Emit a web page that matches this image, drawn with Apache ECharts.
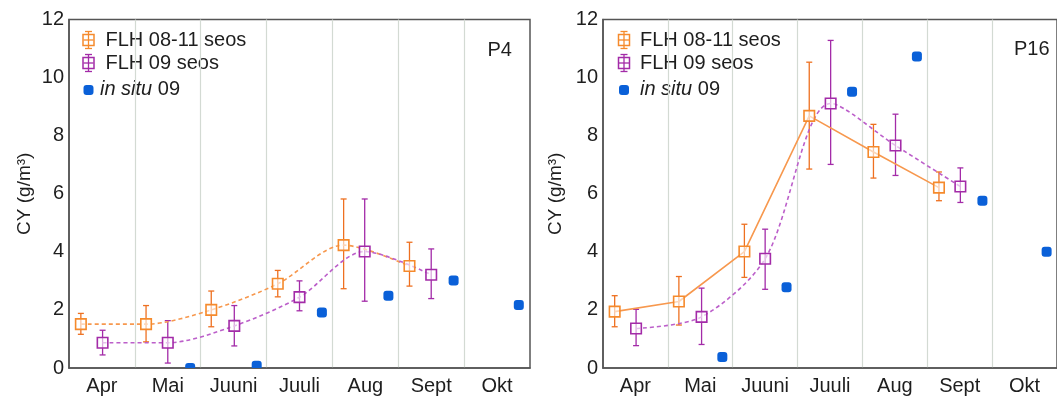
<!DOCTYPE html>
<html>
<head>
<meta charset="utf-8">
<script src="https://cdn.jsdelivr.net/npm/echarts@6/dist/echarts.min.js"></script>
<style>
  html, body { margin: 0; background: #fff; }
  #chart { width: 1057px; height: 397px; }
</style>
</head>
<body>
<div id="chart"></div>
<script>
const months = ['Apr', 'Mai', 'Juuni', 'Juuli', 'Aug', 'Sept', 'Okt'];

// P4 - x is month index (0 = start of Apr)
const p4SeasonX = [0.18, 1.17, 2.16, 3.17, 4.17, 5.17];
const p4Season = [1.51, 1.51, 2.0, 2.9, 4.23, 3.51];
const p4SeasonLo = [1.16, 0.9, 1.42, 2.45, 2.73, 2.82];
const p4SeasonHi = [1.88, 2.15, 2.65, 3.36, 5.82, 4.33];
const p4YearX = [0.51, 1.5, 2.51, 3.5, 4.49, 5.5];
const p4Year = [0.87, 0.87, 1.45, 2.44, 4.01, 3.21];
const p4YearLo = [0.45, 0.17, 0.76, 1.97, 2.3, 2.39];
const p4YearHi = [1.3, 1.63, 2.15, 3.0, 5.82, 4.1];
const p4InSituX = [1.84, 2.85, 3.84, 4.85, 5.84, 6.83];
const p4InSitu = [0.0, 0.08, 1.91, 2.49, 3.01, 2.17];

// P16
const p16SeasonX = [0.18, 1.17, 2.18, 3.18, 4.17, 5.18];
const p16Season = [1.94, 2.29, 4.01, 8.68, 7.44, 6.21];
const p16SeasonLo = [1.42, 1.48, 3.12, 6.85, 6.54, 5.76];
const p16SeasonHi = [2.49, 3.15, 4.95, 10.53, 8.39, 6.75];
const p16YearX = [0.51, 1.52, 2.5, 3.51, 4.51, 5.51];
const p16Year = [1.36, 1.76, 3.76, 9.11, 7.66, 6.25];
const p16YearLo = [0.77, 0.81, 2.71, 7.01, 6.63, 5.7];
const p16YearHi = [2.02, 2.75, 4.78, 11.28, 8.74, 6.89];
const p16InSituX = [1.84, 2.83, 3.84, 4.84, 5.85, 6.84];
const p16InSitu = [0.38, 2.78, 9.51, 10.73, 5.76, 4.0];

const FONT = 'Liberation Sans, Arial, sans-serif';
const FS = 20;
const ORANGE = '#F58A2C';
const ORANGE_ERR = '#EE7020';
const ORANGE_LINE = '#F7984E';
const PURPLE = '#A32BA8';
const PURPLE_LINE = '#BC5FCA';
const BLUE = '#0A60D8';

function pairs(xs, ys) {
  return xs.map((x, i) => [x, ys[i]]);
}
function triples(xs, lo, hi) {
  return xs.map((x, i) => [x, lo[i], hi[i]]);
}

function errorBar(color) {
  return function (params, api) {
    const top = api.coord([api.value(0), api.value(2)]);
    const bot = api.coord([api.value(0), api.value(1)]);
    const cap = 3;
    const style = { stroke: color, lineWidth: 1.3 };
    return {
      type: 'group',
      children: [
        { type: 'line', shape: { x1: top[0], y1: top[1], x2: bot[0], y2: bot[1] }, style: style },
        { type: 'line', shape: { x1: top[0] - cap, y1: top[1], x2: top[0] + cap, y2: top[1] }, style: style },
        { type: 'line', shape: { x1: bot[0] - cap, y1: bot[1], x2: bot[0] + cap, y2: bot[1] }, style: style },
      ],
    };
  };
}

function dot(params, api) {
  const p = api.coord([api.value(0), api.value(1)]);
  return {
    type: 'rect',
    shape: { x: p[0] - 5, y: p[1] - 5, width: 10, height: 10, r: 3 },
    style: { fill: BLUE },
  };
}

function panelSeries(idx, d, orangeSolid) {
  return [
    {
      type: 'custom', xAxisIndex: idx * 2, yAxisIndex: idx,
      renderItem: errorBar(ORANGE_ERR), data: d.seasonErr, z: 2,
      encode: { x: 0, y: [1, 2] },
    },
    {
      type: 'custom', xAxisIndex: idx * 2, yAxisIndex: idx,
      renderItem: errorBar(PURPLE), data: d.yearErr, z: 2,
      encode: { x: 0, y: [1, 2] },
    },
    {
      name: 'FLH 08-11 seos', type: 'line', xAxisIndex: idx * 2, yAxisIndex: idx,
      data: d.season, smooth: orangeSolid ? false : 0.3, z: 3,
      symbol: 'rect', symbolSize: 10.5,
      lineStyle: { color: ORANGE_LINE, width: 1.6, type: orangeSolid ? 'solid' : [4, 3] },
      itemStyle: { color: 'rgba(255,255,255,0.6)', borderColor: ORANGE, borderWidth: 1.6 },
    },
    {
      name: 'FLH 09 seos', type: 'line', xAxisIndex: idx * 2, yAxisIndex: idx,
      data: d.year, smooth: 0.3, z: 3,
      symbol: 'rect', symbolSize: 10.5,
      lineStyle: { color: PURPLE_LINE, width: 1.6, type: [4, 3] },
      itemStyle: { color: 'rgba(255,255,255,0.6)', borderColor: PURPLE, borderWidth: 1.6 },
    },
    {
      name: 'in situ 09', type: 'custom', xAxisIndex: idx * 2, yAxisIndex: idx,
      renderItem: dot, data: d.inSitu, clip: true, z: 4,
      encode: { x: 0, y: 1 },
    },
  ];
}

function legendIcon(x, y, color) {
  const s = { stroke: color, lineWidth: 1.3 };
  return [
    { type: 'line', shape: { x1: x, y1: y - 8.5, x2: x, y2: y + 8.5 }, style: s },
    { type: 'line', shape: { x1: x - 3.5, y1: y - 8.5, x2: x + 3.5, y2: y - 8.5 }, style: s },
    { type: 'line', shape: { x1: x - 3.5, y1: y + 8.5, x2: x + 3.5, y2: y + 8.5 }, style: s },
    { type: 'line', shape: { x1: x - 5, y1: y, x2: x + 5, y2: y }, style: s },
    { type: 'rect', shape: { x: x - 5.5, y: y - 5.5, width: 11, height: 11 }, style: { fill: 'none', stroke: color, lineWidth: 1.5 } },
  ];
}

function legendGraphic(iconX, textX, situX) {
  const txt = { fontSize: FS, fontFamily: FONT, fill: '#1e1e1e', verticalAlign: 'middle' };
  return [
    ...legendIcon(iconX, 40, ORANGE),
    ...legendIcon(iconX, 63, PURPLE),
    { type: 'rect', shape: { x: iconX - 5, y: 85, width: 10, height: 10, r: 3 }, style: { fill: BLUE } },
    { type: 'text', x: textX, y: 40, style: Object.assign({ text: 'FLH 08-11 seos' }, txt) },
    { type: 'text', x: textX, y: 63, style: Object.assign({ text: 'FLH 09 seos' }, txt) },
    {
      type: 'text', x: situX, y: 89,
      style: Object.assign({
        text: '{i|in situ} 09',
        rich: { i: { fontStyle: 'italic', fontSize: FS, fontFamily: FONT, fill: '#1e1e1e' } },
      }, txt),
    },
  ];
}

const panels = [
  {
    season: pairs(p4SeasonX, p4Season),
    seasonErr: triples(p4SeasonX, p4SeasonLo, p4SeasonHi),
    year: pairs(p4YearX, p4Year),
    yearErr: triples(p4YearX, p4YearLo, p4YearHi),
    inSitu: pairs(p4InSituX, p4InSitu),
  },
  {
    season: pairs(p16SeasonX, p16Season),
    seasonErr: triples(p16SeasonX, p16SeasonLo, p16SeasonHi),
    year: pairs(p16YearX, p16Year),
    yearErr: triples(p16YearX, p16YearLo, p16YearHi),
    inSitu: pairs(p16InSituX, p16InSitu),
  },
];

const axisText = { fontSize: FS, fontFamily: FONT, color: '#1e1e1e' };

function xAxes(gridIndex) {
  return [
    {
      type: 'value', gridIndex: gridIndex, min: 0, max: 7, interval: 1,
      axisLine: { show: false }, axisTick: { show: false }, axisLabel: { show: false },
      splitLine: { show: true, showMinLine: false, showMaxLine: false, lineStyle: { color: '#D3DAD3', width: 1.2 } },
    },
    {
      type: 'category', gridIndex: gridIndex, data: months, boundaryGap: true, position: 'bottom',
      axisLine: { show: true, lineStyle: { color: '#555', width: 1.5 } },
      axisTick: { show: false },
      axisLabel: Object.assign({ margin: 8 }, axisText),
      splitLine: { show: false },
    },
  ];
}

function yAxis(gridIndex, gap) {
  return {
    type: 'value', gridIndex: gridIndex, min: 0, max: 12, interval: 2,
    name: 'CY (g/m³)', nameLocation: 'middle', nameGap: gap, nameRotate: 90,
    nameTextStyle: Object.assign({}, axisText, { fontSize: 19 }),
    axisLine: { show: true, lineStyle: { color: '#555', width: 1.5 } },
    axisTick: { show: false },
    axisLabel: Object.assign({ margin: 5 }, axisText),
    splitLine: { show: false },
  };
}

const titleText = { fontSize: FS, fontWeight: 'normal', fontFamily: FONT, color: '#1e1e1e' };

const chart = echarts.init(document.getElementById('chart'), null, { renderer: 'canvas' });
chart.setOption({
  animation: false,
  backgroundColor: '#fff',
  grid: [
    { left: 69, top: 19.5, width: 461, height: 348.5, show: true, borderColor: '#555', borderWidth: 1.5 },
    { left: 603, top: 19.5, width: 459, height: 348.5, show: true, borderColor: '#555', borderWidth: 1.5 },
  ],
  xAxis: [...xAxes(0), ...xAxes(1)],
  yAxis: [yAxis(0, 35), yAxis(1, 38)],
  title: [
    { text: 'P4', left: 482.5, top: 35, textStyle: titleText },
    { text: 'P16', left: 1009, top: 34, textStyle: titleText },
  ],
  graphic: [
    { type: 'group', children: legendGraphic(88.5, 105.5, 100) },
    { type: 'group', children: legendGraphic(624, 640, 640) },
  ],
  series: [...panelSeries(0, panels[0], false), ...panelSeries(1, panels[1], true)],
});
</script>
</body>
</html>
